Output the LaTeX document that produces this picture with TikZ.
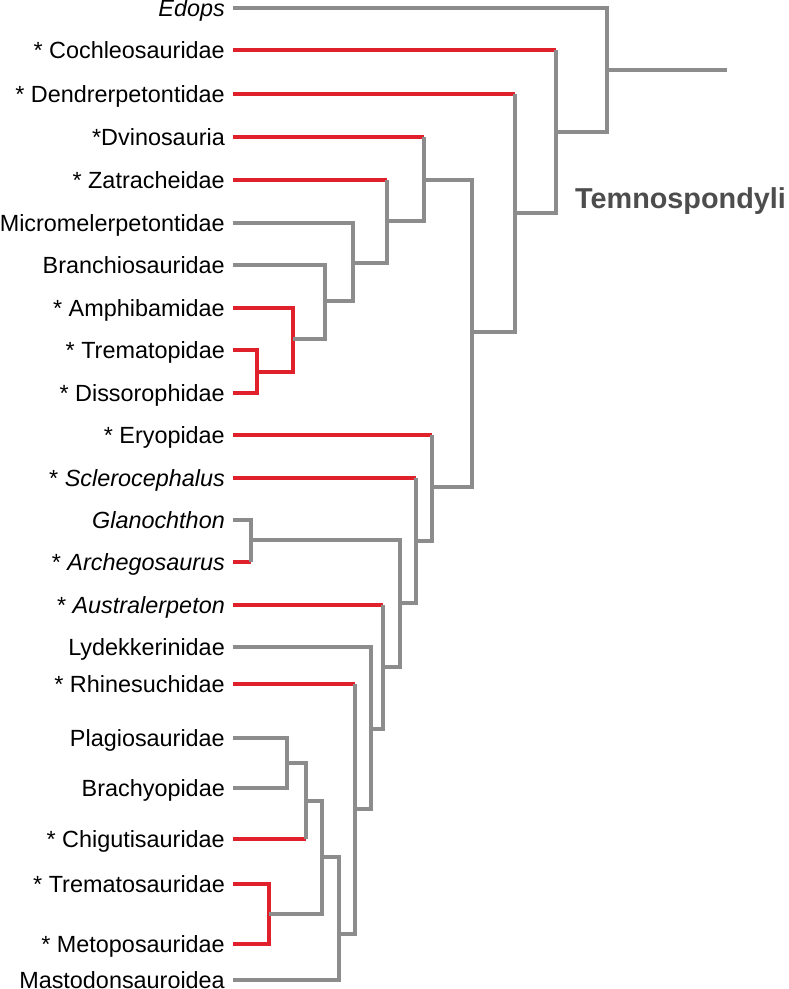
\documentclass[tikz,border=0pt]{standalone}
\usepackage{fontspec}
\setmainfont{Liberation Sans}
\usepackage{tikz}
\usetikzlibrary{positioning,calc}
\definecolor{lngray}{HTML}{8C8C8C}
\definecolor{lnred}{HTML}{E0202A}
\definecolor{txgray}{HTML}{4D4D4D}

\begin{document}
\begin{tikzpicture}[x=1pt,y=-1pt,
taxon/.style={anchor=east,inner xsep=8pt,inner ysep=0pt,text height=16.7pt,text depth=0pt,font=\fontsize{23.4}{23.4}\selectfont},
gl/.style={draw=lngray,line width=4pt},
rl/.style={draw=lnred,line width=4pt}]
\useasboundingbox (0,0) rectangle (789,989);
% taxa
\node[taxon] (edops) at (233,8) {\itshape Edops};
\node[taxon] (coch) at (233,50) {* Cochleosauridae};
\node[taxon] (dendr) at (233,94) {* Dendrerpetontidae};
\node[taxon] (dvin) at (233,137) {*Dvinosauria};
\node[taxon] (zatr) at (233,180) {* Zatracheidae};
\node[taxon] (micro) at (233,223) {Micromelerpetontidae};
\node[taxon] (branch) at (233,265) {Branchiosauridae};
\node[taxon] (amph) at (233,308) {* Amphibamidae};
\node[taxon] (trem) at (233,350) {* Trematopidae};
\node[taxon] (diss) at (233,393) {* Dissorophidae};
\node[taxon] (eryo) at (233,435) {* Eryopidae};
\node[taxon] (scler) at (233,478) {* \itshape Sclerocephalus};
\node[taxon] (glan) at (233,520) {\itshape Glanochthon};
\node[taxon] (arch) at (233,562) {* \itshape Archegosaurus};
\node[taxon] (austr) at (233,605) {* \itshape Australerpeton};
\node[taxon] (lydek) at (233,647) {Lydekkerinidae};
\node[taxon] (rhin) at (233,684) {* Rhinesuchidae};
\node[taxon] (plag) at (233,738) {Plagiosauridae};
\node[taxon] (brach) at (233,788) {Brachyopidae};
\node[taxon] (chig) at (233,839) {* Chigutisauridae};
\node[taxon] (tmsr) at (233,884) {* Trematosauridae};
\node[taxon] (meto) at (233,944) {* Metoposauridae};
\node[taxon] (mast) at (233,980) {Mastodonsauroidea};
\node[anchor=west,inner sep=0pt,text height=20.6pt,text depth=0pt,text=txgray,
  font=\fontsize{28.8}{28.8}\selectfont\bfseries] (temno) at (575,198) {Temnospondyli};
% clades
\coordinate (root) at (727,70);
\coordinate (n1) at (607,70);
\coordinate (n2) at (556,132);
\coordinate (n3) at (515,213);
\coordinate (n4) at (472,332);
\coordinate (n5) at (424,180);
\coordinate (n6) at (387,221);
\coordinate (n7) at (353,263);
\coordinate (n8) at (325,301);
\coordinate (n9) at (293,339);
\coordinate (n10) at (257,372);
\coordinate (n11) at (432,487);
\coordinate (n12) at (416,541);
\coordinate (n13) at (400,603);
\coordinate (n14) at (251,540);
\coordinate (n15) at (383,667);
\coordinate (n16) at (371,729);
\coordinate (n17) at (355,809);
\coordinate (n18) at (339,934);
\coordinate (n19) at (322,857);
\coordinate (n20) at (306,801);
\coordinate (n21) at (287,763);
\coordinate (n22) at (269,914);
% red branches
\draw[rl] (coch.east) -- (coch.east -| n2);
\draw[rl] (dendr.east) -- (dendr.east -| n3);
\draw[rl] (dvin.east) -- (dvin.east -| n5);
\draw[rl] (zatr.east) -- (zatr.east -| n6);
\draw[rl] (amph.east) -| (n9) |- (n10);
\draw[rl] (trem.east) -| (n10) |- (diss.east);
\draw[rl] (eryo.east) -- (eryo.east -| n11);
\draw[rl] (scler.east) -- (scler.east -| n12);
\draw[rl] (arch.east) -- (arch.east -| n14);
\draw[rl] (austr.east) -- (austr.east -| n15);
\draw[rl] (rhin.east) -- (rhin.east -| n17);
\draw[rl] (chig.east) -- (chig.east -| n20);
\draw[rl] (tmsr.east) -| (n22) |- (meto.east);
% gray branches
\draw[gl] (n1) -- (root);
\draw[gl] (edops.east) -| (n1) |- (n2);
\draw[gl] (coch.east -| n2) -- (n2) |- (n3);
\draw[gl] (dendr.east -| n3) -- (n3) |- (n4);
\draw[gl] (n5) -| (n4) |- (n11);
\draw[gl] (dvin.east -| n5) -- (n5) |- (n6);
\draw[gl] (zatr.east -| n6) -- (n6) |- (n7);
\draw[gl] (micro.east) -| (n7) |- (n8);
\draw[gl] (branch.east) -| (n8) |- (n9);
\draw[gl] (eryo.east -| n11) -- (n11) |- (n12);
\draw[gl] (scler.east -| n12) -- (n12) |- (n13);
\draw[gl] (n14) -| (n13) |- (n15);
\draw[gl] (glan.east) -| (n14) -- (arch.east -| n14);
\draw[gl] (austr.east -| n15) -- (n15) |- (n16);
\draw[gl] (lydek.east) -| (n16) |- (n17);
\draw[gl] (rhin.east -| n17) -- (n17) |- (n18);
\draw[gl] (n19) -| (n18) |- (mast.east);
\draw[gl] (n20) -| (n19) |- (n22);
\draw[gl] (n21) -| (n20) -- (chig.east -| n20);
\draw[gl] (plag.east) -| (n21) |- (brach.east);
\end{tikzpicture}
\end{document}
